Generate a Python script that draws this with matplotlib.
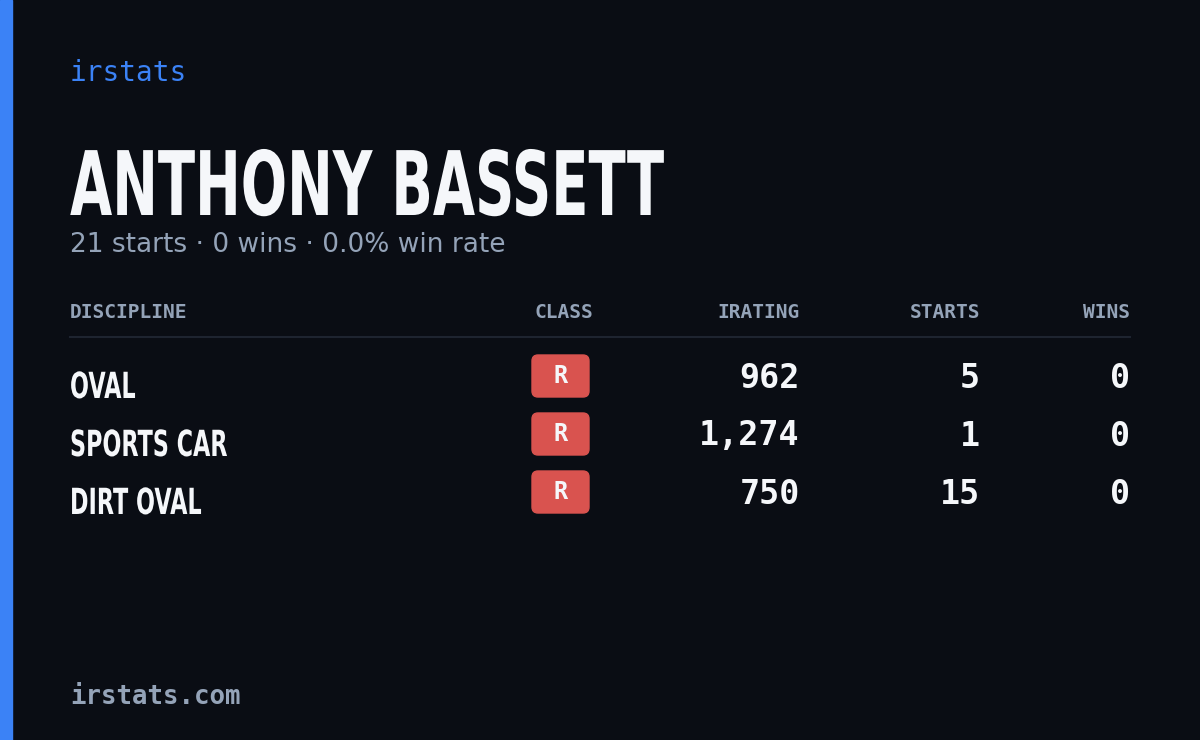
import matplotlib
matplotlib.use("Agg")
import matplotlib.pyplot as plt
from matplotlib.patches import Rectangle, FancyBboxPatch, PathPatch
from matplotlib.textpath import TextPath
from matplotlib.font_manager import FontProperties
from matplotlib.transforms import Affine2D

name = "ANTHONY BASSETT"
subtitle = "21 starts · 0 wins · 0.0% win rate"
headers = ["DISCIPLINE", "CLASS", "IRATING", "STARTS", "WINS"]
disciplines = ["OVAL", "SPORTS CAR", "DIRT OVAL"]
classes = ["R", "R", "R"]
iratings = [962, 1274, 750]
starts = [5, 1, 15]
wins = [0, 0, 0]

W, H = 1200, 740
fig = plt.figure(figsize=(12, 7.4), dpi=100)
fig.patch.set_facecolor("#0a0d14")
ax = fig.add_axes([0, 0, 1, 1])
ax.set_xlim(0, W); ax.set_ylim(H, 0); ax.axis("off")
ax.add_patch(Rectangle((0, 0), 12, H, color="#3b82f6"))

grey = "#94a3b8"; white = "#f5f7fa"
mono = "DejaVu Sans Mono"
boldfp = FontProperties(family="DejaVu Sans", weight="bold")

def cond_text(s, x, yb, size, sx, color):
    tp = TextPath((0, 0), s, size=size, prop=boldfp)
    tr = Affine2D().scale(sx, -1).translate(x, yb)
    ax.add_patch(PathPatch(tr.transform_path(tp), color=color, lw=0))

ax.text(70, 73, "irstats", color="#3b82f6", fontsize=20, family=mono, va="center")
cond_text(name, 70, 215, 89, 0.613, white)
ax.text(70, 245, subtitle, color=grey, fontsize=19, family="DejaVu Sans", va="center")

hx = [70, 593, 800, 980, 1130]
ha = ["left", "right", "right", "right", "right"]
for x, h, a in zip(hx, headers, ha):
    ax.text(x, 313, h, color=grey, fontsize=14, family=mono, fontweight="bold", ha=a, va="center")
ax.plot([70, 1130], [337, 337], color="#1e2430", lw=1.5)

for i, (d, c, ir, s, w) in enumerate(zip(disciplines, classes, iratings, starts, wins)):
    y = 378 + 58 * i
    cond_text(d, 70, y + 20, 36, 0.62, white)
    ax.add_patch(FancyBboxPatch((532, y - 23), 57, 42, boxstyle="round,pad=0,rounding_size=6",
                                color="#d9534f"))
    ax.text(560.5, y - 2, c, color=white, fontsize=17, fontweight="bold", family=mono,
            ha="center", va="center")
    for x, v in zip(hx[2:], [f"{ir:,}", str(s), str(w)]):
        ax.text(x, y, v, color=white, fontsize=24, family=mono, fontweight="bold", ha="right", va="center")

ax.text(70, 697, "irstats.com", color=grey, fontsize=18.5, family=mono, fontweight="bold", va="center")
fig.savefig("out.png", dpi=100, facecolor=fig.get_facecolor())
